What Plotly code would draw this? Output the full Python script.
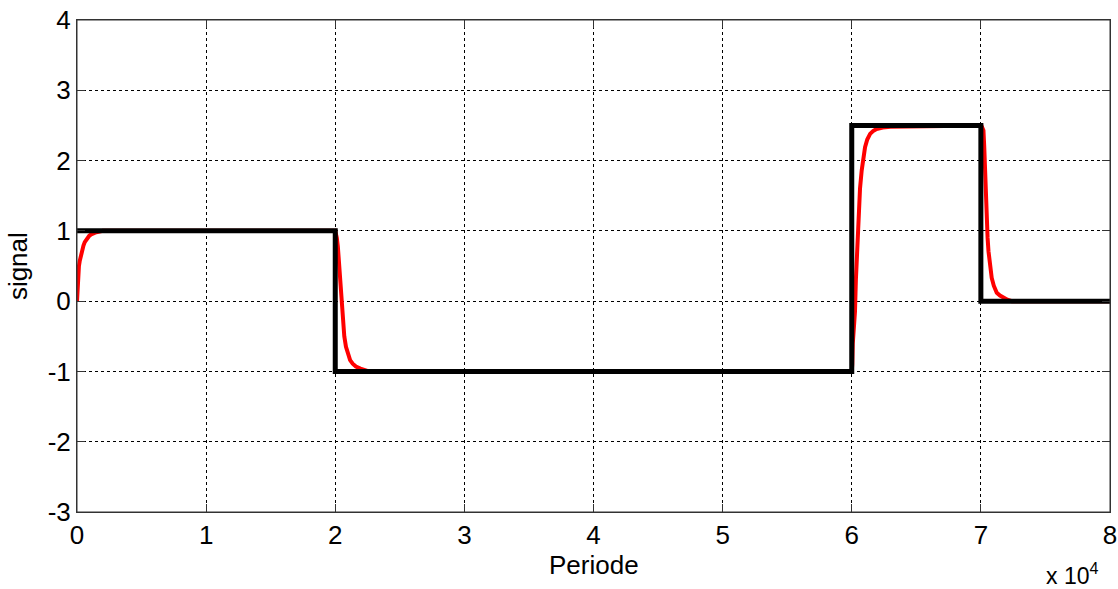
import plotly.graph_objects as go

# Reference (step) signal: Periode vs signal
ref_t = [0, 20000, 20000, 60000, 60000, 70000, 70000, 80000]
ref_y = [1, 1, -1, -1, 2.5, 2.5, 0, 0]

# Response signal
resp_t = [0, 30, 60, 100, 150, 210, 280, 350, 420, 500, 600, 700, 800, 950, 1100, 1300, 1500, 1750, 2000, 20000,
          20060, 20120, 20200, 20260, 20330, 20400, 20480, 20580, 20700, 20830, 20980, 21150, 21350, 21600, 21950, 22250, 22600, 60000,
          60040, 60080, 60160, 60250, 60320, 60390, 60450, 60520, 60640, 60770, 60900, 61030, 61200, 61420, 61650, 61920, 62400, 63000, 70000,
          70040, 70080, 70140, 70200, 70260, 70330, 70400, 70460, 70520, 70590, 70700, 70840, 71000, 71230, 71480, 71750, 72050, 72400, 80000]
resp_y = [0, 0.16, 0.3, 0.41, 0.5, 0.57, 0.64, 0.69, 0.74, 0.79, 0.84, 0.87, 0.9, 0.93, 0.95, 0.97, 0.98, 0.99, 1.0, 1.0,
          0.96, 0.9, 0.78, 0.6, 0.4, 0.2, 0.0, -0.25, -0.5, -0.65, -0.76, -0.84, -0.89, -0.93, -0.96, -0.98, -1.0, -1.0,
          -0.9, -0.6, -0.4, -0.15, 0.3, 0.66, 0.98, 1.28, 1.6, 1.86, 2.04, 2.19, 2.3, 2.38, 2.42, 2.45, 2.47, 2.48, 2.5,
          2.5, 2.48, 2.46, 2.43, 2.2, 1.76, 1.44, 1.14, 0.9, 0.71, 0.5, 0.33, 0.22, 0.12, 0.08, 0.05, 0.02, 0.0, 0.0]

x_ticks = [0, 10000, 20000, 30000, 40000, 50000, 60000, 70000, 80000]
x_labels = ["0", "1", "2", "3", "4", "5", "6", "7", "8"]
y_ticks = [-3, -2, -1, 0, 1, 2, 3, 4]
y_labels = ["-3", "-2", "-1", "0", "1", "2", "3", "4"]

FONT = "Liberation Sans, Arial, sans-serif"
FS = 26

fig = go.Figure()
fig.add_trace(go.Scatter(x=resp_t, y=resp_y, mode="lines",
                         line=dict(color="#ff0000", width=4),
                         showlegend=False))
fig.add_trace(go.Scatter(x=ref_t, y=ref_y, mode="lines",
                         line=dict(color="#000000", width=5),
                         showlegend=False))

axis_common = dict(
    showgrid=True, gridcolor="#000000", gridwidth=1, griddash="3px,3px",
    showline=True, linecolor="#333333", linewidth=1, mirror="ticks",
    ticks="inside", ticklen=8, tickcolor="#333333",
    zeroline=False,
    tickfont=dict(family=FONT, size=FS, color="#000000"),
)

fig.update_xaxes(range=[0, 80000.01], tickvals=x_ticks, ticktext=x_labels, **axis_common)
fig.update_yaxes(range=[-3.00001, 4.00001], tickvals=y_ticks, ticktext=y_labels, **axis_common)

fig.update_layout(
    width=1118, height=589,
    margin=dict(l=77, r=8, t=20, b=77, autoexpand=False),
    paper_bgcolor="white", plot_bgcolor="white",
    shapes=[dict(type="rect", xref="paper", yref="paper", x0=0, y0=0, x1=1, y1=1,
                 line=dict(color="#333333", width=1), fillcolor="rgba(0,0,0,0)", layer="above")],
    annotations=[
        dict(text="Periode", xref="paper", yref="paper", x=0.5, y=-0.108,
             xanchor="center", yanchor="middle", showarrow=False,
             font=dict(family=FONT, size=FS, color="#000000")),
        dict(text="signal", xref="paper", yref="paper", x=-0.057, y=0.5,
             xanchor="center", yanchor="middle", textangle=-90, showarrow=False,
             font=dict(family=FONT, size=FS, color="#000000")),
        dict(text="x 10<sup>4</sup>", xref="paper", yref="paper", x=0.990, y=-0.125,
             xanchor="right", yanchor="middle", showarrow=False,
             font=dict(family=FONT, size=23, color="#000000")),
    ],
)

fig.write_html("out.html", config={"displayModeBar": False},
               post_script="document.body.style.margin='0';document.body.style.overflow='hidden';")
